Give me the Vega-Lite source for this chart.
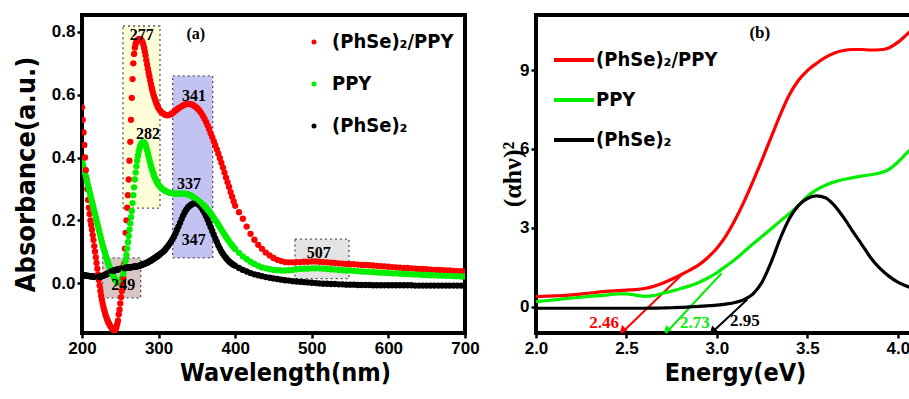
{
"$schema": "https://vega.github.io/schema/vega-lite/v6.json",
"background": "white",
"padding": {"left": 10, "top": 13, "right": 0, "bottom": 0},
"spacing": 71,
"bounds": "flush",
"resolve": {"scale": {"color": "independent", "fill": "independent"}, "legend": {"color": "independent"}},
"config": {
  "view": {"stroke": "black", "strokeWidth": 4},
  "axis": {"grid": false, "domain": false, "ticks": true, "tickColor": "black", "tickWidth": 2.5, "tickSize": 5, "labelPadding": 2, "labelFont": "Liberation Sans", "labelFontWeight": "bold", "labelFontSize": 17, "labelColor": "black", "labelFlush": false, "labelOverlap": false, "titleFont": "Liberation Sans Narrow, DejaVu Sans Condensed, Liberation Sans", "titleFontWeight": "bold", "titleFontSize": 25, "titleColor": "black"},
  "legend": {"padding": 0, "labelFont": "Liberation Sans Narrow, DejaVu Sans Condensed, Liberation Sans", "labelFontWeight": "bold", "labelFontSize": 20, "labelColor": "black", "title": null}
},
"hconcat": [
{
  "width": 383, "height": 318,
  "encoding": {
    "x": {"field": "w", "type": "quantitative", "scale": {"domain": [200, 700], "nice": false, "zero": false}, "axis": {"values": [200, 300, 400, 500, 600, 700], "title": "Wavelength(nm)", "titlePadding": 4, "titleX": 203}},
    "y": {"field": "A", "type": "quantitative", "scale": {"domain": [-0.159, 0.854], "nice": false, "zero": false}, "axis": {"values": [0, 0.2, 0.4, 0.6, 0.8], "format": ".1f", "title": "Absorbance(a.u.)", "titleFontSize": 27, "titlePadding": 11}}
  },
  "layer": [
    {
      "data": {"values": [
        {"id": "277", "w": 253.5, "w2": 301.8, "A": 0.239, "A2": 0.819},
        {"id": "341", "w": 318.4, "w2": 370.6, "A": 0.08, "A2": 0.66},
        {"id": "249", "w": 227, "w2": 276.6, "A": -0.047, "A2": 0.08},
        {"id": "507", "w": 478, "w2": 548.6, "A": 0.014, "A2": 0.14}
      ]},
      "mark": {"type": "rect", "stroke": "#555555", "strokeWidth": 1.3, "strokeDash": [2, 3]},
      "encoding": {
        "x2": {"field": "w2"},
        "y2": {"field": "A2"},
        "fill": {"field": "id", "type": "nominal", "scale": {"domain": ["277", "341", "249", "507"], "range": ["#fdfdd8", "#c3c3f3", "#d9c4c4", "#e3e3e3"]}, "legend": null}
      }
    },
    {
      "data": {"values": [
        {"w":200,"r":0.56,"g":0.39,"k":0.025},{"w":201,"r":0.52,"g":0.38,"k":0.025},{"w":202,"r":0.48,"g":0.37,"k":0.025},{"w":203,"r":0.44,"g":0.36,"k":0.025},{"w":204,"r":0.40,"g":0.35,"k":0.024},
        {"w":205,"r":0.36,"g":0.34,"k":0.024},{"w":206,"r":0.33,"g":0.33,"k":0.024},{"w":207,"r":0.30,"g":0.32,"k":0.023},{"w":208,"r":0.265,"g":0.31,"k":0.023},{"w":209,"r":0.24,"g":0.30,"k":0.023},
        {"w":210,"r":0.22,"g":0.29,"k":0.022},{"w":211,"r":0.2,"g":0.28,"k":0.022},{"w":212,"r":0.185,"g":0.27,"k":0.022},{"w":213,"r":0.17,"g":0.26,"k":0.021},{"w":214,"r":0.153,"g":0.25,"k":0.021},
        {"w":215,"r":0.137,"g":0.24,"k":0.021},{"w":216,"r":0.118,"g":0.23,"k":0.02},{"w":217,"r":0.1,"g":0.22,"k":0.02},{"w":218,"r":0.082,"g":0.21,"k":0.02},{"w":219,"r":0.064,"g":0.2,"k":0.02},
        {"w":220,"r":0.046,"g":0.19,"k":0.02},{"w":221,"r":0.028,"g":0.18,"k":0.02},{"w":222,"r":0.01,"g":0.17,"k":0.02},{"w":223,"r":-0.008,"g":0.16,"k":0.02},{"w":224,"r":-0.025,"g":0.15,"k":0.02},
        {"w":225,"r":-0.04,"g":0.14,"k":0.021},{"w":226,"r":-0.053,"g":0.13,"k":0.022},{"w":227,"r":-0.065,"g":0.12,"k":0.023},{"w":228,"r":-0.076,"g":0.112,"k":0.024},{"w":229,"r":-0.086,"g":0.104,"k":0.025},
        {"w":230,"r":-0.095,"g":0.096,"k":0.026},{"w":231,"r":-0.103,"g":0.088,"k":0.027},{"w":232,"r":-0.11,"g":0.08,"k":0.028},{"w":233,"r":-0.117,"g":0.072,"k":0.03},{"w":234,"r":-0.123,"g":0.065,"k":0.031},
        {"w":235,"r":-0.128,"g":0.058,"k":0.032},{"w":236,"r":-0.133,"g":0.051,"k":0.034},{"w":237,"r":-0.137,"g":0.045,"k":0.035},{"w":238,"r":-0.141,"g":0.039,"k":0.036},{"w":239,"r":-0.144,"g":0.033,"k":0.037},
        {"w":240,"r":-0.147,"g":0.027,"k":0.038},{"w":241,"r":-0.149,"g":0.022,"k":0.039},{"w":242,"r":-0.15,"g":0.017,"k":0.04},{"w":243,"r":-0.15,"g":0.013,"k":0.041},{"w":244,"r":-0.147,"g":0.009,"k":0.042},
        {"w":245,"r":-0.14,"g":0.006,"k":0.042},{"w":246,"r":-0.13,"g":0.003,"k":0.043},{"w":247,"r":-0.12,"g":0.001,"k":0.044},{"w":248,"r":-0.1,"g":0.0,"k":0.044},{"w":249,"r":-0.085,"g":0.0,"k":0.045},
        {"w":250,"r":-0.065,"g":0.002,"k":0.045},{"w":251,"r":-0.045,"g":0.006,"k":0.046},{"w":252,"r":-0.025,"g":0.012,"k":0.046},{"w":253,"r":-0.005,"g":0.02,"k":0.047},{"w":254,"r":0.015,"g":0.03,"k":0.047},
        {"w":255,"r":0.06,"g":0.042,"k":0.048},{"w":256,"r":0.11,"g":0.056,"k":0.048},{"w":257,"r":0.16,"g":0.072,"k":0.048},{"w":258,"r":0.2,"g":0.09,"k":0.049},{"w":259,"r":0.24,"g":0.11,"k":0.049},
        {"w":260,"r":0.28,"g":0.13,"k":0.049},{"w":261,"r":0.33,"g":0.15,"k":0.05},{"w":262,"r":0.39,"g":0.17,"k":0.05},{"w":263,"r":0.45,"g":0.19,"k":0.05},{"w":264,"r":0.52,"g":0.21,"k":0.051},
        {"w":265,"r":0.59,"g":0.23,"k":0.051},{"w":266,"r":0.65,"g":0.255,"k":0.051},{"w":267,"r":0.7,"g":0.28,"k":0.052},{"w":268,"r":0.73,"g":0.305,"k":0.052},{"w":269,"r":0.75,"g":0.33,"k":0.052},
        {"w":270,"r":0.762,"g":0.352,"k":0.053},{"w":271,"r":0.768,"g":0.372,"k":0.053},{"w":272,"r":0.772,"g":0.39,"k":0.054},{"w":273,"r":0.775,"g":0.405,"k":0.054},{"w":274,"r":0.777,"g":0.418,"k":0.055},
        {"w":275,"r":0.778,"g":0.428,"k":0.055},{"w":276,"r":0.777,"g":0.436,"k":0.056},{"w":277,"r":0.775,"g":0.442,"k":0.057},{"w":278,"r":0.772,"g":0.446,"k":0.058},{"w":279,"r":0.767,"g":0.448,"k":0.059},
        {"w":280,"r":0.76,"g":0.449,"k":0.06},{"w":281,"r":0.75,"g":0.448,"k":0.061},{"w":282,"r":0.738,"g":0.445,"k":0.062},{"w":283,"r":0.725,"g":0.44,"k":0.063},{"w":284,"r":0.71,"g":0.432,"k":0.064},
        {"w":285,"r":0.696,"g":0.423,"k":0.065},{"w":286,"r":0.683,"g":0.413,"k":0.066},{"w":287,"r":0.67,"g":0.403,"k":0.068},{"w":288,"r":0.658,"g":0.393,"k":0.069},{"w":289,"r":0.646,"g":0.383,"k":0.07},
        {"w":290,"r":0.634,"g":0.374,"k":0.072},{"w":291,"r":0.623,"g":0.365,"k":0.073},{"w":292,"r":0.613,"g":0.357,"k":0.075},{"w":293,"r":0.603,"g":0.35,"k":0.077},{"w":294,"r":0.595,"g":0.343,"k":0.078},
        {"w":295,"r":0.587,"g":0.337,"k":0.08},{"w":296,"r":0.58,"g":0.331,"k":0.082},{"w":297,"r":0.573,"g":0.326,"k":0.083},{"w":298,"r":0.567,"g":0.321,"k":0.085},{"w":299,"r":0.561,"g":0.317,"k":0.087},
        {"w":300,"r":0.556,"g":0.313,"k":0.088},
        {"w":302,"r":0.549,"g":0.307,"k":0.092},{"w":304,"r":0.544,"g":0.302,"k":0.096},{"w":306,"r":0.54,"g":0.298,"k":0.1},{"w":308,"r":0.537,"g":0.295,"k":0.105},{"w":310,"r":0.535,"g":0.292,"k":0.111},
        {"w":312,"r":0.535,"g":0.29,"k":0.117},{"w":314,"r":0.536,"g":0.288,"k":0.124},{"w":316,"r":0.538,"g":0.287,"k":0.131},{"w":318,"r":0.541,"g":0.286,"k":0.139},{"w":320,"r":0.545,"g":0.285,"k":0.148},
        {"w":322,"r":0.549,"g":0.285,"k":0.158},{"w":324,"r":0.553,"g":0.285,"k":0.169},{"w":326,"r":0.557,"g":0.285,"k":0.18},{"w":328,"r":0.56,"g":0.285,"k":0.192},{"w":330,"r":0.563,"g":0.285,"k":0.204},
        {"w":332,"r":0.566,"g":0.285,"k":0.215},{"w":334,"r":0.568,"g":0.285,"k":0.225},{"w":336,"r":0.57,"g":0.284,"k":0.233},{"w":338,"r":0.571,"g":0.283,"k":0.24},{"w":340,"r":0.571,"g":0.281,"k":0.245},
        {"w":342,"r":0.57,"g":0.279,"k":0.249},{"w":344,"r":0.568,"g":0.276,"k":0.252},{"w":346,"r":0.565,"g":0.273,"k":0.254},{"w":348,"r":0.562,"g":0.27,"k":0.255},{"w":350,"r":0.558,"g":0.266,"k":0.254},
        {"w":352,"r":0.553,"g":0.262,"k":0.251},{"w":354,"r":0.547,"g":0.258,"k":0.246},{"w":356,"r":0.54,"g":0.254,"k":0.24},{"w":358,"r":0.532,"g":0.25,"k":0.232},{"w":360,"r":0.523,"g":0.245,"k":0.223},
        {"w":362,"r":0.513,"g":0.24,"k":0.213},{"w":364,"r":0.502,"g":0.234,"k":0.202},{"w":366,"r":0.49,"g":0.228,"k":0.19},{"w":368,"r":0.477,"g":0.222,"k":0.178},{"w":370,"r":0.465,"g":0.215,"k":0.166},
        {"w":372,"r":0.452,"g":0.208,"k":0.154},{"w":374,"r":0.439,"g":0.201,"k":0.142},{"w":376,"r":0.426,"g":0.194,"k":0.131},{"w":378,"r":0.412,"g":0.186,"k":0.12},{"w":380,"r":0.398,"g":0.178,"k":0.11},
        {"w":382,"r":0.383,"g":0.17,"k":0.101},{"w":384,"r":0.368,"g":0.162,"k":0.093},{"w":386,"r":0.352,"g":0.155,"k":0.086},{"w":388,"r":0.336,"g":0.147,"k":0.08},{"w":390,"r":0.321,"g":0.14,"k":0.074},
        {"w":392,"r":0.306,"g":0.133,"k":0.069},{"w":394,"r":0.29,"g":0.126,"k":0.065},{"w":396,"r":0.275,"g":0.12,"k":0.061},{"w":398,"r":0.26,"g":0.114,"k":0.058},{"w":400,"r":0.246,"g":0.108,"k":0.055},
        {"w":405,"r":0.226,"g":0.096,"k":0.048},{"w":410,"r":0.205,"g":0.085,"k":0.042},{"w":415,"r":0.18,"g":0.076,"k":0.037},{"w":420,"r":0.157,"g":0.068,"k":0.032},{"w":425,"r":0.138,"g":0.061,"k":0.028},
        {"w":430,"r":0.122,"g":0.055,"k":0.025},{"w":435,"r":0.109,"g":0.05,"k":0.022},{"w":440,"r":0.097,"g":0.047,"k":0.019},{"w":445,"r":0.088,"g":0.044,"k":0.017},{"w":450,"r":0.08,"g":0.042,"k":0.015},
        {"w":455,"r":0.074,"g":0.041,"k":0.013},{"w":460,"r":0.07,"g":0.04,"k":0.011},{"w":465,"r":0.067,"g":0.04,"k":0.009},{"w":470,"r":0.066,"g":0.041,"k":0.008},{"w":475,"r":0.066,"g":0.042,"k":0.006},
        {"w":480,"r":0.067,"g":0.044,"k":0.005},{"w":485,"r":0.067,"g":0.045,"k":0.004},{"w":490,"r":0.068,"g":0.046,"k":0.003},{"w":495,"r":0.068,"g":0.046,"k":0.002},{"w":500,"r":0.069,"g":0.047,"k":0.001},
        {"w":505,"r":0.069,"g":0.047,"k":0.0},{"w":510,"r":0.068,"g":0.047,"k":-0.001},{"w":515,"r":0.067,"g":0.046,"k":-0.002},{"w":520,"r":0.066,"g":0.045,"k":-0.002},{"w":525,"r":0.065,"g":0.044,"k":-0.003},
        {"w":530,"r":0.064,"g":0.043,"k":-0.003},{"w":535,"r":0.063,"g":0.042,"k":-0.004},{"w":540,"r":0.062,"g":0.041,"k":-0.004},{"w":545,"r":0.061,"g":0.04,"k":-0.005},{"w":550,"r":0.06,"g":0.04,"k":-0.005},
        {"w":555,"r":0.06,"g":0.039,"k":-0.005},{"w":560,"r":0.059,"g":0.038,"k":-0.006},{"w":565,"r":0.058,"g":0.037,"k":-0.006},{"w":570,"r":0.058,"g":0.036,"k":-0.006},{"w":575,"r":0.057,"g":0.036,"k":-0.006},
        {"w":580,"r":0.056,"g":0.035,"k":-0.007},{"w":585,"r":0.055,"g":0.034,"k":-0.007},{"w":590,"r":0.054,"g":0.033,"k":-0.007},{"w":595,"r":0.053,"g":0.033,"k":-0.007},{"w":600,"r":0.052,"g":0.032,"k":-0.007},
        {"w":605,"r":0.051,"g":0.031,"k":-0.007},{"w":610,"r":0.05,"g":0.031,"k":-0.007},{"w":615,"r":0.049,"g":0.03,"k":-0.007},{"w":620,"r":0.048,"g":0.029,"k":-0.007},{"w":625,"r":0.048,"g":0.029,"k":-0.007},
        {"w":630,"r":0.047,"g":0.028,"k":-0.007},{"w":635,"r":0.046,"g":0.027,"k":-0.008},{"w":640,"r":0.045,"g":0.027,"k":-0.008},{"w":645,"r":0.045,"g":0.026,"k":-0.008},{"w":650,"r":0.044,"g":0.026,"k":-0.008},
        {"w":655,"r":0.043,"g":0.025,"k":-0.008},{"w":660,"r":0.042,"g":0.025,"k":-0.008},{"w":665,"r":0.042,"g":0.024,"k":-0.008},{"w":670,"r":0.041,"g":0.024,"k":-0.008},{"w":675,"r":0.04,"g":0.023,"k":-0.008},
        {"w":680,"r":0.04,"g":0.023,"k":-0.008},{"w":685,"r":0.039,"g":0.022,"k":-0.008},{"w":690,"r":0.038,"g":0.022,"k":-0.008},{"w":695,"r":0.038,"g":0.021,"k":-0.008},{"w":700,"r":0.037,"g":0.021,"k":-0.008}
      ]},
      "transform": [{"fold": ["r", "g", "k"], "as": ["s", "A"]}],
      "mark": {"type": "point", "filled": true, "size": 40, "opacity": 1, "clip": true},
      "encoding": {
        "color": {"field": "s", "type": "nominal", "scale": {"domain": ["r", "g", "k"], "range": ["#ff0000", "#00ee00", "#000000"]},
          "legend": {"orient": "none", "legendX": 222, "legendY": 17, "symbolType": "circle", "symbolSize": 25, "labelOffset": 8, "rowPadding": 22,
            "labelExpr": "datum.label == 'r' ? '(PhSe)₂/PPY' : datum.label == 'g' ? 'PPY' : '(PhSe)₂'"}}
      }
    },
    {
      "data": {"values": [
        {"w": 277.9, "A": 0.79, "t": "277"},
        {"w": 286, "A": 0.475, "t": "282"},
        {"w": 346.2, "A": 0.596, "t": "341"},
        {"w": 339.7, "A": 0.316, "t": "337"},
        {"w": 346, "A": 0.137, "t": "347"},
        {"w": 254, "A": -0.006, "t": "249"},
        {"w": 509, "A": 0.096, "t": "507"},
        {"w": 348.6, "A": 0.792, "t": "(a)"}
      ]},
      "mark": {"type": "text", "font": "Liberation Serif", "fontWeight": "bold", "fontSize": 16, "color": "black", "align": "center", "baseline": "middle"},
      "encoding": {"text": {"field": "t"}}
    }
  ]
},
{
  "width": 398, "height": 318,
  "encoding": {
    "x": {"field": "E", "type": "quantitative", "scale": {"domain": [2, 4.2], "nice": false, "zero": false}, "axis": {"values": [2, 2.5, 3, 3.5, 4], "format": ".1f", "title": "Energy(eV)", "titlePadding": 4}},
    "y": {"field": "v", "type": "quantitative", "scale": {"domain": [-0.99, 11.09], "nice": false, "zero": false}, "axis": {"values": [0, 3, 6, 9], "format": "d", "title": "(αhν)²", "titleFont": "Liberation Serif", "titleFontSize": 26, "titlePadding": -6}}
  },
  "layer": [
    {
      "data": {"values": [
        {"s": "r", "E": 2.805, "v": 1.215, "E2": 2.473, "v2": -0.99},
        {"s": "g", "E": 3.026, "v": 1.28, "E2": 2.718, "v2": -0.99},
        {"s": "k", "E": 3.168, "v": 0.28, "E2": 2.975, "v2": -0.95}
      ]},
      "mark": {"type": "rule", "strokeWidth": 2},
      "encoding": {
        "x2": {"field": "E2"}, "y2": {"field": "v2"},
        "color": {"field": "s", "type": "nominal", "scale": {"domain": ["r", "g", "k"], "range": ["#ff0000", "#00ee00", "#000000"]},
          "legend": {"orient": "none", "legendX": 16, "legendY": 23, "symbolType": "stroke", "symbolSize": 1600, "symbolStrokeWidth": 4, "labelOffset": 0, "rowPadding": 8,
            "labelExpr": "datum.label == 'r' ? '(PhSe)₂/PPY' : datum.label == 'g' ? 'PPY' : '(PhSe)₂'"}}
      }
    },
    {
      "data": {"values": [
        {"s": "r", "E": 2.482, "v": -0.85},
        {"s": "g", "E": 2.726, "v": -0.85},
        {"s": "k", "E": 2.98, "v": -0.87}
      ]},
      "mark": {"type": "point", "shape": "triangle", "filled": true, "size": 60, "angle": 225, "opacity": 1},
      "encoding": {
        "color": {"field": "s", "type": "nominal", "scale": {"domain": ["r", "g", "k"], "range": ["#ff0000", "#00ee00", "#000000"]},
          "legend": {"orient": "none", "legendX": 16, "legendY": 23, "symbolType": "stroke", "symbolSize": 1600, "symbolStrokeWidth": 4, "labelOffset": 0, "rowPadding": 8,
            "labelExpr": "datum.label == 'r' ? '(PhSe)₂/PPY' : datum.label == 'g' ? 'PPY' : '(PhSe)₂'"}}
      }
    },
    {
      "data": {"values": [
        {"E":2.0,"r":0.39,"g":0.2,"k":-0.05},{"E":2.1,"r":0.42,"g":0.27,"k":-0.05},{"E":2.2,"r":0.46,"g":0.34,"k":-0.05},{"E":2.3,"r":0.53,"g":0.4,"k":-0.05},
        {"E":2.4,"r":0.6,"g":0.46,"k":-0.05},{"E":2.45,"r":0.62,"g":0.5,"k":-0.05},{"E":2.5,"r":0.64,"g":0.5,"k":-0.05},{"E":2.55,"r":0.66,"g":0.45,"k":-0.05},
        {"E":2.6,"r":0.7,"g":0.4,"k":-0.05},{"E":2.65,"r":0.78,"g":0.43,"k":-0.045},{"E":2.7,"r":0.9,"g":0.52,"k":-0.04},{"E":2.75,"r":1.05,"g":0.6,"k":-0.03},
        {"E":2.8,"r":1.22,"g":0.7,"k":-0.02},{"E":2.85,"r":1.4,"g":0.8,"k":0.0},{"E":2.9,"r":1.6,"g":0.93,"k":0.02},{"E":2.95,"r":1.88,"g":1.1,"k":0.045},
        {"E":3.0,"r":2.23,"g":1.3,"k":0.07},{"E":3.05,"r":2.7,"g":1.55,"k":0.11},{"E":3.1,"r":3.3,"g":1.8,"k":0.17},{"E":3.15,"r":4.0,"g":2.1,"k":0.28},
        {"E":3.2,"r":4.78,"g":2.4,"k":0.5},{"E":3.25,"r":5.6,"g":2.68,"k":0.95},{"E":3.3,"r":6.45,"g":2.97,"k":1.7},{"E":3.35,"r":7.3,"g":3.26,"k":2.6},
        {"E":3.4,"r":8.05,"g":3.54,"k":3.35},{"E":3.45,"r":8.6,"g":3.85,"k":3.85},{"E":3.5,"r":8.98,"g":4.2,"k":4.12},{"E":3.55,"r":9.25,"g":4.45,"k":4.22},
        {"E":3.6,"r":9.48,"g":4.62,"k":4.15},{"E":3.65,"r":9.65,"g":4.75,"k":3.85},{"E":3.7,"r":9.74,"g":4.84,"k":3.4},{"E":3.75,"r":9.78,"g":4.91,"k":2.88},
        {"E":3.8,"r":9.78,"g":4.97,"k":2.38},{"E":3.85,"r":9.76,"g":5.02,"k":1.87},{"E":3.9,"r":9.77,"g":5.09,"k":1.47},{"E":3.95,"r":9.84,"g":5.22,"k":1.17},
        {"E":4.0,"r":10.05,"g":5.5,"k":0.94},{"E":4.05,"r":10.35,"g":5.85,"k":0.79},{"E":4.1,"r":10.65,"g":6.15,"k":0.67},{"E":4.15,"r":10.9,"g":6.4,"k":0.58},
        {"E":4.2,"r":11.1,"g":6.6,"k":0.52}
      ]},
      "transform": [{"fold": ["r", "g", "k"], "as": ["s", "v"]}],
      "mark": {"type": "line", "strokeWidth": 3.2, "interpolate": "monotone", "clip": true},
      "encoding": {
        "color": {"field": "s", "type": "nominal", "scale": {"domain": ["r", "g", "k"], "range": ["#ff0000", "#00ee00", "#000000"]},
          "legend": {"orient": "none", "legendX": 16, "legendY": 23, "symbolType": "stroke", "symbolSize": 1600, "symbolStrokeWidth": 4, "labelOffset": 0, "rowPadding": 8,
            "labelExpr": "datum.label == 'r' ? '(PhSe)₂/PPY' : datum.label == 'g' ? 'PPY' : '(PhSe)₂'"}}
      }
    },
    {
      "data": {"values": [
        {"s": "r", "E": 2.376, "v": -0.61, "t": "2.46"},
        {"s": "g", "E": 2.878, "v": -0.61, "t": "2.73"},
        {"s": "k", "E": 3.155, "v": -0.53, "t": "2.95"},
        {"s": "k", "E": 3.237, "v": 10.4, "t": "(b)"}
      ]},
      "mark": {"type": "text", "font": "Liberation Serif", "fontWeight": "bold", "fontSize": 17, "align": "center", "baseline": "middle"},
      "encoding": {
        "text": {"field": "t"},
        "fill": {"field": "s", "type": "nominal", "scale": {"domain": ["r", "g", "k"], "range": ["#ff0000", "#00ee00", "#000000"]}, "legend": null}
      }
    }
  ]
}
]
}
